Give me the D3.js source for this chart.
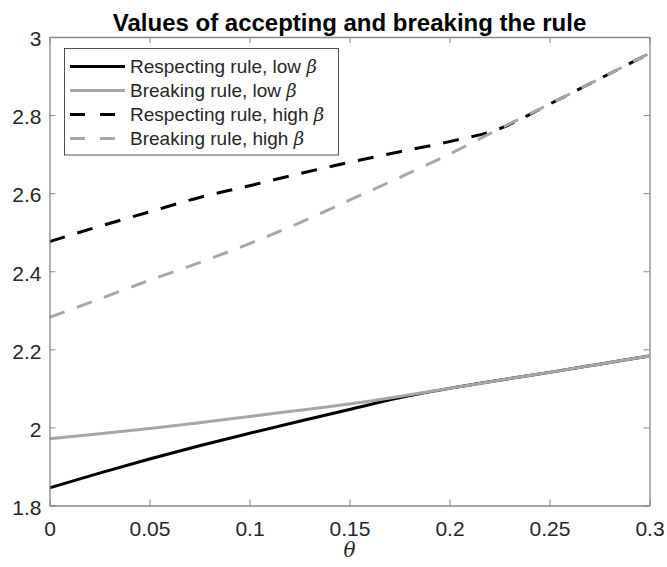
<!DOCTYPE html>
<html>
<head>
<meta charset="utf-8">
<script src="https://cdn.jsdelivr.net/npm/d3@7"></script>
<style>
  html, body { margin: 0; padding: 0; background: #fff; }
  svg { display: block; }
</style>
</head>
<body>
<svg id="chart" width="667" height="567"></svg>
<script>
// ---- Data ----
const theta = [0, 0.025, 0.05, 0.075, 0.1, 0.125, 0.15, 0.175, 0.2, 0.225, 0.25, 0.275, 0.3];
const respectLow  = [1.845, 1.883, 1.919, 1.953, 1.985, 2.016, 2.046, 2.076, 2.100, 2.121, 2.141, 2.162, 2.183];
const breakLow    = [1.971, 1.984, 1.997, 2.012, 2.028, 2.044, 2.060, 2.079, 2.100, 2.121, 2.141, 2.162, 2.183];
const respectHigh = [2.476, 2.515, 2.552, 2.589, 2.619, 2.650, 2.679, 2.706, 2.732, 2.765, 2.828, 2.893, 2.958];
const breakHigh   = [2.282, 2.329, 2.377, 2.422, 2.471, 2.524, 2.582, 2.640, 2.700, 2.765, 2.828, 2.893, 2.958];
const xTicks = [0, 0.05, 0.1, 0.15, 0.2, 0.25, 0.3];
const xTickLabels = ["0", "0.05", "0.1", "0.15", "0.2", "0.25", "0.3"];
const yTicks = [1.8, 2, 2.2, 2.4, 2.6, 2.8, 3];
const yTickLabels = ["1.8", "2", "2.2", "2.4", "2.6", "2.8", "3"];
const seriesNames = ["Respecting rule, low ", "Breaking rule, low ", "Respecting rule, high ", "Breaking rule, high "];
const titleText = "Values of accepting and breaking the rule";
const xLabel = "θ";

// ---- Layout ----
const svg = d3.select("#chart");
const L = 49.5, R = 649.5, T = 37, B = 505.5;
const x = d3.scaleLinear().domain([0, 0.3]).range([L, R]);
const y = d3.scaleLinear().domain([1.8, 3]).range([B, T]);

const axisColor = "#868686";
const textColor = "#262626";
const gray = "#a6a6a6";

const series = [
  { vals: respectLow,  color: "#000", dash: null },
  { vals: breakLow,    color: gray,   dash: null },
  { vals: respectHigh, color: "#000", dash: "16,13" },
  { vals: breakHigh,   color: gray,   dash: "16,13" }
];

svg.append("clipPath").attr("id", "clip").append("rect")
  .attr("x", L).attr("y", T).attr("width", R - L).attr("height", B - T);

const line = d3.line().x(d => x(d[0])).y(d => y(d[1])).curve(d3.curveMonotoneX);
const g = svg.append("g").attr("clip-path", "url(#clip)");
series.forEach(s => {
  g.append("path")
    .datum(theta.map((t, i) => [t, s.vals[i]]))
    .attr("d", line)
    .attr("fill", "none")
    .attr("stroke", s.color)
    .attr("stroke-width", 3)
    .attr("stroke-dasharray", s.dash)
    .attr("stroke-linecap", "butt")
    .attr("stroke-linejoin", "round");
});

// axes (box with inward ticks)
const axisFont = "'Liberation Sans', Arial, Helvetica, sans-serif";
const xb = d3.axisBottom(x).tickValues(xTicks).tickFormat((d, i) => xTickLabels[i]).tickSizeInner(-6).tickSizeOuter(0).tickPadding(16);
const xt = d3.axisTop(x).tickValues(xTicks).tickFormat("").tickSizeInner(-6).tickSizeOuter(0);
const yl = d3.axisLeft(y).tickValues(yTicks).tickFormat((d, i) => yTickLabels[i]).tickSizeInner(-6).tickSizeOuter(0).tickPadding(8);
const yr = d3.axisRight(y).tickValues(yTicks).tickFormat("").tickSizeInner(-6).tickSizeOuter(0);

function style(sel) {
  sel.selectAll("path.domain").attr("stroke", axisColor).attr("stroke-width", 1.3);
  sel.selectAll(".tick line").attr("stroke", axisColor).attr("stroke-width", 1);
  sel.selectAll(".tick text").attr("fill", textColor).style("font-family", axisFont).style("font-size", "21px");
}
style(svg.append("g").attr("transform", `translate(0,${B})`).call(xb));
style(svg.append("g").attr("transform", `translate(0,${T})`).call(xt));
const ylg = svg.append("g").attr("transform", `translate(${L},0)`).call(yl);
style(ylg);
ylg.selectAll(".tick text").attr("dy", "0.42em");
style(svg.append("g").attr("transform", `translate(${R},0)`).call(yr));

// title
svg.append("text")
  .attr("x", (L + R) / 2).attr("y", 31)
  .attr("text-anchor", "middle")
  .attr("fill", "#000")
  .style("font-family", axisFont)
  .style("font-weight", "bold")
  .style("font-size", "24px")
  .text(titleText);

// x label
svg.append("text")
  .attr("x", (L + R) / 2).attr("y", 557)
  .attr("text-anchor", "middle")
  .attr("fill", textColor)
  .style("font-family", "'DejaVu Serif', 'Liberation Serif', serif")
  .style("font-style", "italic")
  .style("font-size", "20px")
  .text(xLabel);

// legend
const lg = svg.append("g");
lg.append("rect")
  .attr("x", 64.5).attr("y", 48.5).attr("width", 274).attr("height", 106.5)
  .attr("fill", "#fff").attr("stroke", textColor).attr("stroke-width", 0.8);
const rowY = [66.5, 90.5, 114.5, 138.5];
series.forEach((s, i) => {
  lg.append("line")
    .attr("x1", 70).attr("x2", 125).attr("y1", rowY[i]).attr("y2", rowY[i])
    .attr("stroke", s.color).attr("stroke-width", 3)
    .attr("stroke-dasharray", s.dash ? "15,15" : null);
  const t = lg.append("text")
    .attr("x", 130).attr("y", rowY[i]).attr("dy", "0.36em")
    .attr("fill", textColor)
    .style("font-family", axisFont)
    .style("font-size", "19px");
  t.append("tspan").text(seriesNames[i]);
  t.append("tspan")
    .style("font-family", "'DejaVu Serif', 'Liberation Serif', serif")
    .style("font-style", "italic")
    .style("font-size", "18px")
    .text("β");
});
</script>
</body>
</html>
